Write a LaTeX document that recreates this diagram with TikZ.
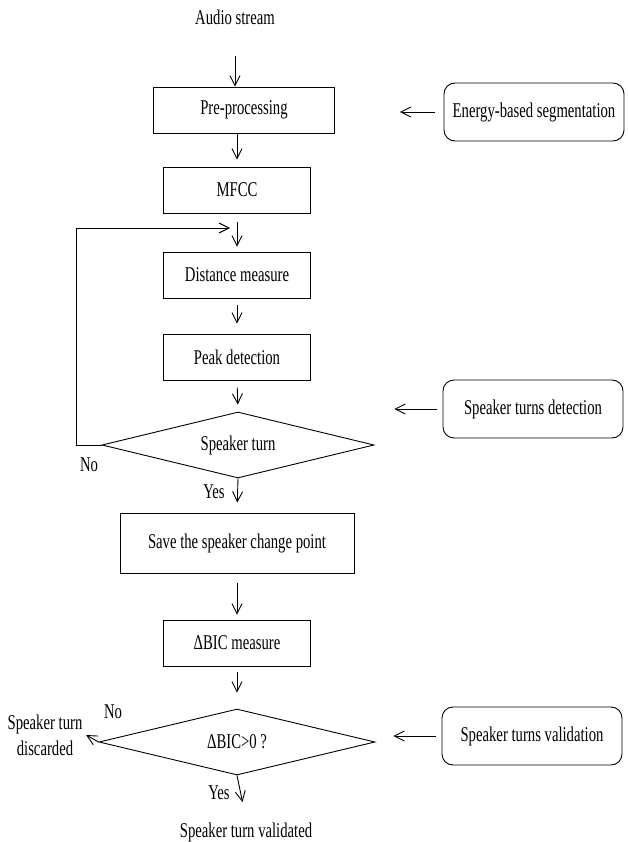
\documentclass[tikz,border=0pt]{standalone}
\usepackage{fontspec}
\setmainfont{Liberation Serif}[FakeStretch=0.70]
\usetikzlibrary{shapes.geometric,arrows.meta}
\begin{document}
\begin{tikzpicture}[x=1pt,y=-1pt,line width=.9pt,
  font=\fontsize{21}{26}\selectfont,
  >={Straight Barb[length=10pt,width=10pt]},
  box/.style={draw,minimum width=#1,minimum height=46pt,inner sep=2pt},
  box/.default=147,
  rbox/.style={draw,rounded corners=11pt,minimum width=180pt,minimum height=58pt,inner xsep=4pt},
  test/.style={draw,diamond,aspect=4,minimum width=#1,minimum height=66pt,inner sep=0pt}]
\useasboundingbox (0,0) rectangle (627,842);
% main column
\node (audio) at (235,17) {Audio stream};
\node[box=181] (pre) at (244,110) {Pre-processing};
\node[box] (mfcc) at (237,190) {MFCC};
\node[box] (dist) at (237,275) {Distance measure};
\node[box] (peak) at (237,357) {Peak detection};
\node[test=272] (turn) at (238,445) {Speaker turn};
\node[box=234,minimum height=60pt] (save) at (237,543) {Save the speaker change point};
\node[box] (bic) at (237,643) {ΔBIC measure};
\node[test=276] (check) at (237,742) {ΔBIC>0 ?};
\node[align=center] (discard) at (45,735) {Speaker turn\\discarded};
\node (valid) at (246,832) {Speaker turn validated};
% side boxes
\node[rbox] (energy) at (534,112) {Energy-based segmentation};
\node[rbox] (detect) at (533,409) {Speaker turns detection};
\node[rbox] (validation) at (532,736) {Speaker turns validation};
% answers
\node (no1) at (89,465) {No};
\node (yes1) at (214,492) {Yes};
\node (no2) at (113,712) {No};
\node (yes2) at (219,793) {Yes};
\coordinate (back) at (76,228);
\coordinate (loopin) at (230,228);
% arrows
\draw[->,shorten <=28pt] (audio) -- (audio |- pre.north);
\draw[->,shorten >=7pt] (pre.south -| mfcc) -- (mfcc.north);
\draw[->,shorten <=9pt,shorten >=5pt] (mfcc.south) -- (dist.north);
\draw[->,shorten <=7pt,shorten >=10pt] (dist.south) -- (peak.north);
\draw[->,shorten <=7pt,shorten >=7pt] (peak.south) -- (turn.north);
\draw[->,shorten >=10pt] (turn.south) -- (save.north);
\draw[->,shorten <=10pt,shorten >=5pt] (save.south) -- (bic.north);
\draw[->,shorten <=6pt,shorten >=16pt] (bic.south) -- (check.north);
\draw[->,shorten >=17pt] (check.south) -- (valid.north);
\draw[->] (check.west) -- (discard.east);
\draw[->] (turn.west) -- (turn.west -| back) -- (back) -- (loopin);
\draw[->,shorten <=9pt,shorten >=65pt] (energy.west) -- (energy.west -| pre.east);
\draw[->,shorten <=6pt,shorten >=20pt] (detect.west) -- (detect.west -| turn.east);
\draw[->,shorten <=6pt,shorten >=18pt] (validation.west) -- (validation.west -| check.east);
\end{tikzpicture}
\end{document}
